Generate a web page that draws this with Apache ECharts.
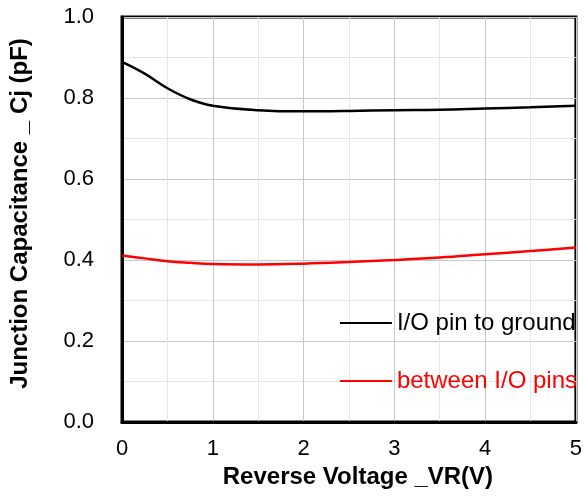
<!DOCTYPE html>
<html>
<head>
<meta charset="utf-8">
<script src="https://cdn.jsdelivr.net/npm/echarts@6/dist/echarts.min.js"></script>
<style>
  html, body { margin: 0; padding: 0; background: #fff; }
  #chart { width: 585px; height: 500px; }
</style>
</head>
<body>
<div id="chart"></div>
<script>
// reverse voltage (V)
const voltage = [0, 0.25, 0.5, 0.75, 1, 1.5, 2, 2.5, 3, 3.5, 4, 4.5, 5];
// I/O pin to ground
const ioToGround = [0.889, 0.860, 0.824, 0.797, 0.781, 0.770, 0.767, 0.768, 0.770, 0.771, 0.774, 0.777, 0.781];
// between I/O pins
const betweenPins = [0.411, 0.404, 0.397, 0.393, 0.390, 0.389, 0.391, 0.395, 0.400, 0.406, 0.414, 0.422, 0.431];

const xTicks = [0, 1, 2, 3, 4, 5];
const yTicks = [0, 0.2, 0.4, 0.6, 0.8, 1.0];

const font = 'Liberation Sans, Arial, sans-serif';

const toPairs = (xs, ys) => xs.map((x, i) => [x, ys[i]]);

const chart = echarts.init(document.getElementById('chart'));

const option = {
    animation: false,
    grid: {
        left: 121, right: 5, top: 17, bottom: 78,
        show: true,
        borderColor: '#000',
        borderWidth: 3
    },
    legend: {
        orient: 'vertical',
        right: 3,
        top: 306,
        itemWidth: 52,
        itemHeight: 2,
        itemGap: 34,
        icon: 'rect',
        textStyle: { fontFamily: font, fontSize: 24, color: '#000' },
        data: [
            { name: 'I/O pin to ground', textStyle: { color: '#000' } },
            { name: 'between I/O pins', textStyle: { color: '#ff0000' } }
        ]
    },
    xAxis: {
        type: 'value',
        min: xTicks[0],
        max: xTicks[xTicks.length - 1],
        interval: 1,
        name: 'Reverse Voltage _VR(V)',
        nameLocation: 'middle',
        nameGap: 38,
        nameTextStyle: {
            fontFamily: font, fontSize: 24, fontWeight: 'bold', color: '#000',
            padding: [0, 0, 0, 18]
        },
        axisLine: { lineStyle: { color: '#000', width: 3 } },
        axisTick: { show: false },
        axisLabel: { fontFamily: font, fontSize: 22, color: '#000', margin: 16 },
        splitLine: { show: true, lineStyle: { color: '#c8c8c8', width: 1 } },
        minorTick: { show: true, splitNumber: 2, length: 0, lineStyle: { width: 0 } },
        minorSplitLine: { show: true, lineStyle: { color: '#e6e6e6', width: 1 } }
    },
    yAxis: {
        type: 'value',
        min: yTicks[0],
        max: yTicks[yTicks.length - 1],
        interval: 0.2,
        name: 'Junction Capacitance _ Cj (pF)',
        nameLocation: 'middle',
        nameGap: 90,
        nameTextStyle: {
            fontFamily: font, fontSize: 24, fontWeight: 'bold', color: '#000',
            padding: [0, 0, 0, 12]
        },
        axisLine: { show: true, lineStyle: { color: '#000', width: 3 } },
        axisTick: { show: false },
        axisLabel: {
            fontFamily: font, fontSize: 22, color: '#000', margin: 28,
            formatter: v => v.toFixed(1)
        },
        splitLine: { show: true, lineStyle: { color: '#c8c8c8', width: 1 } },
        minorTick: { show: true, splitNumber: 2, length: 0, lineStyle: { width: 0 } },
        minorSplitLine: { show: true, lineStyle: { color: '#e6e6e6', width: 1 } }
    },
    series: [
        {
            name: 'I/O pin to ground',
            type: 'line',
            smooth: 0.4,
            showSymbol: false,
            data: toPairs(voltage, ioToGround),
            itemStyle: { color: '#000' },
            lineStyle: { color: '#000', width: 2.5 }
        },
        {
            name: 'between I/O pins',
            type: 'line',
            smooth: 0.4,
            showSymbol: false,
            data: toPairs(voltage, betweenPins),
            itemStyle: { color: '#ff0000' },
            lineStyle: { color: '#ff0000', width: 2.5 }
        }
    ]
};

chart.setOption(option);
</script>
</body>
</html>
